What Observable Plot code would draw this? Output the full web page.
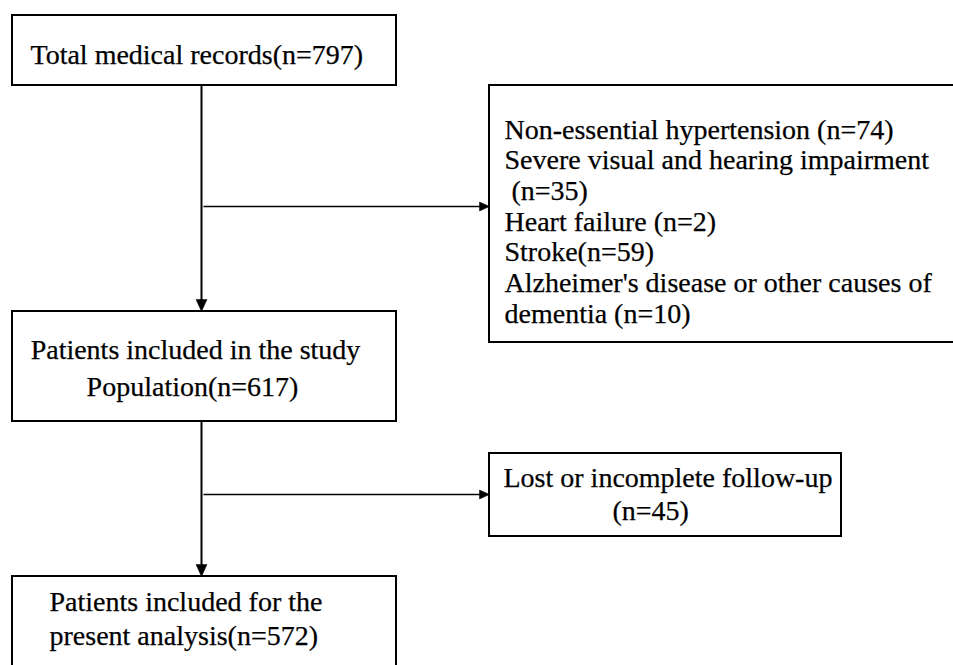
<!DOCTYPE html>
<html>
<head>
<meta charset="utf-8">
<script src="https://cdn.jsdelivr.net/npm/d3@7"></script>
<script src="https://cdn.jsdelivr.net/npm/@observablehq/plot@0.6"></script>
<style>
  html, body { margin: 0; padding: 0; background: #fff; }
  #chart svg { display: block; }
</style>
</head>
<body>
<div id="chart"></div>
<script>
// ---- Content (flowchart stages and counts) ----
const stageLabels = [
  ["Total medical records(n=797)"],
  ["Patients included in the study", "Population(n=617)"],
  ["Patients included for the", "present analysis(n=572)"]
];
const exclusionLines = [
  "Non-essential hypertension (n=74)",
  "Severe visual and hearing impairment",
  "\u00a0(n=35)",
  "Heart failure (n=2)",
  "Stroke(n=59)",
  "Alzheimer's disease or other causes of",
  "dementia (n=10)"
];
const lostLines = ["Lost or incomplete follow-up", "(n=45)"];

// ---- Layout (page coordinates of the flowchart) ----
const W = 953, H = 665;
const stageBoxes = [
  {x1: 12, x2: 396, y1: 15, y2: 85},
  {x1: 12, x2: 396, y1: 311, y2: 421},
  {x1: 12, x2: 396, y1: 576, y2: 690}
];
const sideBoxes = [
  {x1: 489, x2: 990, y1: 85, y2: 342},
  {x1: 489, x2: 841, y1: 453, y2: 536}
];
const stageText = [
  [{x: 30, y: 63, anchor: "start"}],
  [{x: 195, y: 358, anchor: "middle"}, {x: 192, y: 395, anchor: "middle"}],
  [{x: 49, y: 610, anchor: "start"}, {x: 49, y: 644, anchor: "start"}]
];
const exclText = {x: 504, y0: 138, step: 30.7};
const lostText = [{x: 503, y: 486, anchor: "start"}, {x: 612, y: 519, anchor: "start"}];

const spineX = 201;
const arrows = [
  {x1: spineX, y1: 85, x2: spineX, y2: 311, w: 2, len: 12, half: 5.5},
  {x1: spineX, y1: 421, x2: spineX, y2: 576, w: 2, len: 12, half: 5.5},
  {x1: spineX + 2, y1: 206, x2: 489, y2: 206, w: 1.4, len: 10, half: 4.5},
  {x1: spineX + 2, y1: 494, x2: 489, y2: 494, w: 1.4, len: 10, half: 4.5}
];

// ---- Build mark data ----
const texts = [];
stageLabels.forEach((lines, i) => lines.forEach((t, j) => {
  const p = stageText[i][j];
  texts.push({text: t, x: p.x, y: p.y, anchor: p.anchor});
}));
exclusionLines.forEach((t, i) => texts.push({text: t, x: exclText.x, y: exclText.y0 + i * exclText.step, anchor: "start"}));
lostLines.forEach((t, i) => texts.push({text: t, x: lostText[i].x, y: lostText[i].y, anchor: lostText[i].anchor}));

// shafts end where the arrowhead begins
const shafts = arrows.map(a => {
  const dx = a.x2 - a.x1, dy = a.y2 - a.y1, L = Math.hypot(dx, dy);
  const ux = dx / L, uy = dy / L;
  return {...a, ex: a.x2 - ux * (a.len - 1), ey: a.y2 - uy * (a.len - 1)};
});
const heads = [];
arrows.forEach((a, k) => {
  const dx = a.x2 - a.x1, dy = a.y2 - a.y1, L = Math.hypot(dx, dy);
  const ux = dx / L, uy = dy / L, px = -uy, py = ux;
  const bx = a.x2 - ux * a.len, by = a.y2 - uy * a.len;
  heads.push({id: k, x: a.x2, y: a.y2});
  heads.push({id: k, x: bx + px * a.half, y: by + py * a.half});
  heads.push({id: k, x: bx - px * a.half, y: by - py * a.half});
  heads.push({id: k, x: a.x2, y: a.y2});
});

const font = "Liberation Serif";
const textOpts = anchor => ({
  x: "x", y: "y", text: "text", textAnchor: anchor, lineAnchor: "bottom",
  fontSize: 28, fill: "black", stroke: "black", strokeWidth: 0.25, fontFamily: font
});

const chart = Plot.plot({
  width: W, height: H, margin: 0,
  x: {domain: [0, W], range: [0, W], axis: null},
  y: {domain: [0, H], range: [0, H], axis: null},
  style: {background: "white", fontFamily: font},
  marks: [
    Plot.link(shafts.filter(s => s.w >= 2), {x1: "x1", y1: "y1", x2: "ex", y2: "ey", stroke: "black", strokeWidth: 2}),
    Plot.link(shafts.filter(s => s.w < 2), {x1: "x1", y1: "y1", x2: "ex", y2: "ey", stroke: "black", strokeWidth: 1.4}),
    Plot.line(heads, {x: "x", y: "y", z: "id", fill: "black", stroke: "black", strokeWidth: 0.5}),
    Plot.rect(stageBoxes.concat(sideBoxes), {x1: "x1", x2: "x2", y1: "y1", y2: "y2", fill: "white", stroke: "black", strokeWidth: 2}),
    Plot.text(texts.filter(d => d.anchor === "start"), textOpts("start")),
    Plot.text(texts.filter(d => d.anchor === "middle"), textOpts("middle"))
  ]
});
document.getElementById("chart").appendChild(chart);
</script>
</body>
</html>
